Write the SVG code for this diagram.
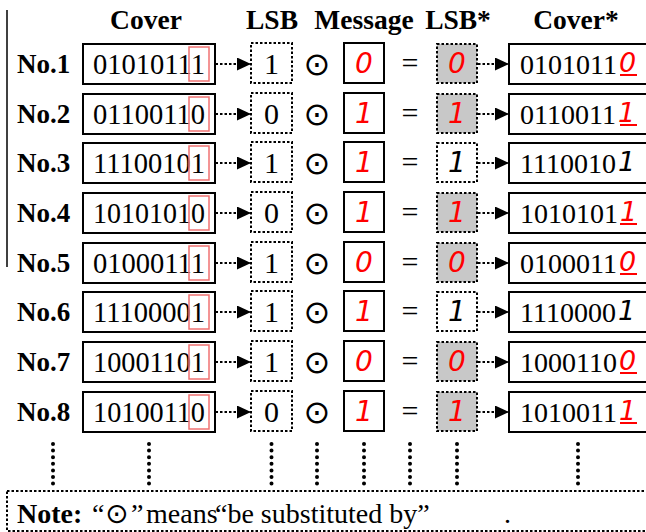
<svg xmlns="http://www.w3.org/2000/svg" width="646" height="532" viewBox="0 0 646 532">
<style>
.hd{font-family:"Liberation Serif","Times New Roman",serif;font-weight:bold;font-size:27.5px;text-anchor:middle;fill:#000}
.no{font-family:"Liberation Serif","Times New Roman",serif;font-weight:bold;font-size:27px;fill:#000}
.dg{font-family:"Liberation Serif","Times New Roman",serif;font-size:30px;fill:#000}
.dgc{font-family:"Liberation Serif","Times New Roman",serif;font-size:28px;fill:#000}
.ctr{text-anchor:middle}
.rd{font-family:"DejaVu Sans",sans-serif;font-style:italic;font-size:28px;fill:#ff0000;text-anchor:middle}
.bk{font-family:"DejaVu Sans",sans-serif;font-style:italic;font-size:28px;fill:#000;text-anchor:middle}
.rdc{font-family:"DejaVu Sans",sans-serif;font-style:italic;font-size:27px;fill:#ff0000}
.bkc{font-family:"DejaVu Sans",sans-serif;font-style:italic;font-size:27px;fill:#000}
.odot{font-family:"DejaVu Sans",sans-serif;font-size:32px;text-anchor:middle;fill:#000}
.box{fill:#fff;stroke:#000;stroke-width:2}
.dbox{fill:#fff;stroke:#000;stroke-width:2;stroke-dasharray:2.5 2}
.gbox{fill:#c8c8c8;stroke:#000;stroke-width:2;stroke-dasharray:2.5 2}
.red{fill:none;stroke:#f07272;stroke-width:1.5}
.arr{stroke:#000;stroke-width:2;stroke-dasharray:2.5 2;fill:none}
.ul{stroke:#ff0000;stroke-width:2}
.dots{stroke:#000;stroke-width:4;stroke-linecap:round;stroke-dasharray:0 6.6;fill:none}
.note{fill:#fff;stroke:#000;stroke-width:2;stroke-dasharray:2.5 2}
.nt{font-family:"Liberation Serif","Times New Roman",serif;font-size:28px;fill:#000}
</style>
<defs>
<marker id="ah" markerUnits="userSpaceOnUse" markerWidth="15" markerHeight="13" refX="14" refY="6.5" orient="auto">
<path d="M0,0 L14,6.5 L0,13 Z" fill="#000"/>
</marker>
</defs>

<line x1="7" y1="10" x2="7" y2="267" stroke="#000" stroke-width="1.5"/>

<g id="headers">
<text class="hd" x="146" y="29">Cover</text>
<text class="hd" x="272" y="29">LSB</text>
<text class="hd" x="364" y="29">Message</text>
<text class="hd" x="458" y="29">LSB*</text>
<text class="hd" x="576" y="29">Cover*</text>
</g>

<g id="connectors">
<line class="arr" x1="211" y1="64" x2="251" y2="64" marker-end="url(#ah)"/>
<line class="arr" x1="478" y1="64" x2="509" y2="64" marker-end="url(#ah)"/>
<line class="arr" x1="211" y1="114" x2="251" y2="114" marker-end="url(#ah)"/>
<line class="arr" x1="478" y1="114" x2="509" y2="114" marker-end="url(#ah)"/>
<line class="arr" x1="211" y1="163" x2="251" y2="163" marker-end="url(#ah)"/>
<line class="arr" x1="478" y1="163" x2="509" y2="163" marker-end="url(#ah)"/>
<line class="arr" x1="211" y1="213" x2="251" y2="213" marker-end="url(#ah)"/>
<line class="arr" x1="478" y1="213" x2="509" y2="213" marker-end="url(#ah)"/>
<line class="arr" x1="211" y1="263" x2="251" y2="263" marker-end="url(#ah)"/>
<line class="arr" x1="478" y1="263" x2="509" y2="263" marker-end="url(#ah)"/>
<line class="arr" x1="211" y1="312" x2="251" y2="312" marker-end="url(#ah)"/>
<line class="arr" x1="478" y1="312" x2="509" y2="312" marker-end="url(#ah)"/>
<line class="arr" x1="211" y1="362" x2="251" y2="362" marker-end="url(#ah)"/>
<line class="arr" x1="478" y1="362" x2="509" y2="362" marker-end="url(#ah)"/>
<line class="arr" x1="211" y1="412" x2="251" y2="412" marker-end="url(#ah)"/>
<line class="arr" x1="478" y1="412" x2="509" y2="412" marker-end="url(#ah)"/>
</g>

<!-- Row 1 -->
<g id="row1">
<text class="no" x="17" y="73">No.1</text>
<g id="cover1"><rect class="box" x="83" y="44" width="132" height="40"/><text class="dg" x="93" y="74" textLength="112" lengthAdjust="spacingAndGlyphs">01010111</text><rect class="red" x="189" y="47" width="20" height="34"/></g>
<g id="lsb1"><rect class="dbox" x="251" y="43" width="41" height="40"/><text class="dg ctr" x="271.5" y="74">1</text></g>
<text class="odot" x="317" y="75">⊙</text>
<g id="msg1"><rect class="box" x="344" y="43" width="40" height="40"/><text class="rd" x="364" y="73">0</text></g>
<text class="dg ctr" x="410" y="73">=</text>
<g id="lsbs1"><rect class="gbox" x="437" y="44" width="40" height="39"/><text class="rd" x="457" y="73">0</text></g>
<g id="covers1"><rect class="box" x="509" y="44" width="145" height="40"/><text class="dgc" x="520" y="74">0101011<tspan class="rdc" dx="2" dy="-2">0</tspan></text><line class="ul" x1="620" y1="75" x2="637" y2="75"/></g>
</g>

<!-- Row 2 -->
<g id="row2">
<text class="no" x="17" y="123">No.2</text>
<g id="cover2"><rect class="box" x="83" y="94" width="132" height="40"/><text class="dg" x="93" y="124" textLength="112" lengthAdjust="spacingAndGlyphs">01100110</text><rect class="red" x="189" y="97" width="20" height="34"/></g>
<g id="lsb2"><rect class="dbox" x="251" y="93" width="41" height="40"/><text class="dg ctr" x="271.5" y="124">0</text></g>
<text class="odot" x="317" y="125">⊙</text>
<g id="msg2"><rect class="box" x="344" y="93" width="40" height="40"/><text class="rd" x="364" y="123">1</text></g>
<text class="dg ctr" x="410" y="123">=</text>
<g id="lsbs2"><rect class="gbox" x="437" y="94" width="40" height="39"/><text class="rd" x="457" y="123">1</text></g>
<g id="covers2"><rect class="box" x="509" y="94" width="145" height="40"/><text class="dgc" x="520" y="124">0110011<tspan class="rdc" dx="2" dy="-2">1</tspan></text><line class="ul" x1="620" y1="125" x2="637" y2="125"/></g>
</g>

<!-- Row 3 -->
<g id="row3">
<text class="no" x="17" y="172">No.3</text>
<g id="cover3"><rect class="box" x="83" y="143" width="132" height="40"/><text class="dg" x="93" y="173" textLength="112" lengthAdjust="spacingAndGlyphs">11100101</text><rect class="red" x="189" y="146" width="20" height="34"/></g>
<g id="lsb3"><rect class="dbox" x="251" y="142" width="41" height="40"/><text class="dg ctr" x="271.5" y="173">1</text></g>
<text class="odot" x="317" y="174">⊙</text>
<g id="msg3"><rect class="box" x="344" y="142" width="40" height="40"/><text class="rd" x="364" y="172">1</text></g>
<text class="dg ctr" x="410" y="172">=</text>
<g id="lsbs3"><rect class="dbox" x="437" y="143" width="40" height="39"/><text class="bk" x="457" y="172">1</text></g>
<g id="covers3"><rect class="box" x="509" y="143" width="145" height="40"/><text class="dgc" x="520" y="173">1110010<tspan class="bkc" dx="2" dy="-2">1</tspan></text></g>
</g>

<!-- Row 4 -->
<g id="row4">
<text class="no" x="17" y="222">No.4</text>
<g id="cover4"><rect class="box" x="83" y="193" width="132" height="40"/><text class="dg" x="93" y="223" textLength="112" lengthAdjust="spacingAndGlyphs">10101010</text><rect class="red" x="189" y="196" width="20" height="34"/></g>
<g id="lsb4"><rect class="dbox" x="251" y="192" width="41" height="40"/><text class="dg ctr" x="271.5" y="223">0</text></g>
<text class="odot" x="317" y="224">⊙</text>
<g id="msg4"><rect class="box" x="344" y="192" width="40" height="40"/><text class="rd" x="364" y="222">1</text></g>
<text class="dg ctr" x="410" y="222">=</text>
<g id="lsbs4"><rect class="gbox" x="437" y="193" width="40" height="39"/><text class="rd" x="457" y="222">1</text></g>
<g id="covers4"><rect class="box" x="509" y="193" width="145" height="40"/><text class="dgc" x="520" y="223">1010101<tspan class="rdc" dx="2" dy="-2">1</tspan></text><line class="ul" x1="620" y1="224" x2="637" y2="224"/></g>
</g>

<!-- Row 5 -->
<g id="row5">
<text class="no" x="17" y="272">No.5</text>
<g id="cover5"><rect class="box" x="83" y="243" width="132" height="40"/><text class="dg" x="93" y="273" textLength="112" lengthAdjust="spacingAndGlyphs">01000111</text><rect class="red" x="189" y="246" width="20" height="34"/></g>
<g id="lsb5"><rect class="dbox" x="251" y="242" width="41" height="40"/><text class="dg ctr" x="271.5" y="273">1</text></g>
<text class="odot" x="317" y="274">⊙</text>
<g id="msg5"><rect class="box" x="344" y="242" width="40" height="40"/><text class="rd" x="364" y="272">0</text></g>
<text class="dg ctr" x="410" y="272">=</text>
<g id="lsbs5"><rect class="gbox" x="437" y="243" width="40" height="39"/><text class="rd" x="457" y="272">0</text></g>
<g id="covers5"><rect class="box" x="509" y="243" width="145" height="40"/><text class="dgc" x="520" y="273">0100011<tspan class="rdc" dx="2" dy="-2">0</tspan></text><line class="ul" x1="620" y1="274" x2="637" y2="274"/></g>
</g>

<!-- Row 6 -->
<g id="row6">
<text class="no" x="17" y="321">No.6</text>
<g id="cover6"><rect class="box" x="83" y="292" width="132" height="40"/><text class="dg" x="93" y="322" textLength="112" lengthAdjust="spacingAndGlyphs">11100001</text><rect class="red" x="189" y="295" width="20" height="34"/></g>
<g id="lsb6"><rect class="dbox" x="251" y="291" width="41" height="40"/><text class="dg ctr" x="271.5" y="322">1</text></g>
<text class="odot" x="317" y="323">⊙</text>
<g id="msg6"><rect class="box" x="344" y="291" width="40" height="40"/><text class="rd" x="364" y="321">1</text></g>
<text class="dg ctr" x="410" y="321">=</text>
<g id="lsbs6"><rect class="dbox" x="437" y="292" width="40" height="39"/><text class="bk" x="457" y="321">1</text></g>
<g id="covers6"><rect class="box" x="509" y="292" width="145" height="40"/><text class="dgc" x="520" y="322">1110000<tspan class="bkc" dx="2" dy="-2">1</tspan></text></g>
</g>

<!-- Row 7 -->
<g id="row7">
<text class="no" x="17" y="371">No.7</text>
<g id="cover7"><rect class="box" x="83" y="342" width="132" height="40"/><text class="dg" x="93" y="372" textLength="112" lengthAdjust="spacingAndGlyphs">10001101</text><rect class="red" x="189" y="345" width="20" height="34"/></g>
<g id="lsb7"><rect class="dbox" x="251" y="341" width="41" height="40"/><text class="dg ctr" x="271.5" y="372">1</text></g>
<text class="odot" x="317" y="373">⊙</text>
<g id="msg7"><rect class="box" x="344" y="341" width="40" height="40"/><text class="rd" x="364" y="371">0</text></g>
<text class="dg ctr" x="410" y="371">=</text>
<g id="lsbs7"><rect class="gbox" x="437" y="342" width="40" height="39"/><text class="rd" x="457" y="371">0</text></g>
<g id="covers7"><rect class="box" x="509" y="342" width="145" height="40"/><text class="dgc" x="520" y="372">1000110<tspan class="rdc" dx="2" dy="-2">0</tspan></text><line class="ul" x1="620" y1="373" x2="637" y2="373"/></g>
</g>

<!-- Row 8 -->
<g id="row8">
<text class="no" x="17" y="421">No.8</text>
<g id="cover8"><rect class="box" x="83" y="392" width="132" height="40"/><text class="dg" x="93" y="422" textLength="112" lengthAdjust="spacingAndGlyphs">10100110</text><rect class="red" x="189" y="395" width="20" height="34"/></g>
<g id="lsb8"><rect class="dbox" x="251" y="391" width="41" height="40"/><text class="dg ctr" x="271.5" y="422">0</text></g>
<text class="odot" x="317" y="423">⊙</text>
<g id="msg8"><rect class="box" x="344" y="391" width="40" height="40"/><text class="rd" x="364" y="421">1</text></g>
<text class="dg ctr" x="410" y="421">=</text>
<g id="lsbs8"><rect class="gbox" x="437" y="392" width="40" height="39"/><text class="rd" x="457" y="421">1</text></g>
<g id="covers8"><rect class="box" x="509" y="392" width="145" height="40"/><text class="dgc" x="520" y="422">1010011<tspan class="rdc" dx="2" dy="-2">1</tspan></text><line class="ul" x1="620" y1="423" x2="637" y2="423"/></g>
</g>

<g id="ellipsis">
<line class="dots" x1="53" y1="444" x2="53" y2="484"/>
<line class="dots" x1="149" y1="444" x2="149" y2="484"/>
<line class="dots" x1="271.5" y1="444" x2="271.5" y2="484"/>
<line class="dots" x1="317" y1="444" x2="317" y2="484"/>
<line class="dots" x1="364" y1="444" x2="364" y2="484"/>
<line class="dots" x1="410" y1="444" x2="410" y2="484"/>
<line class="dots" x1="457" y1="444" x2="457" y2="484"/>
<line class="dots" x1="578" y1="444" x2="578" y2="484"/>
</g>

<g id="note">
<rect class="note" x="7" y="491" width="650" height="40"/>
<text class="nt" y="523"><tspan x="17" font-weight="bold">Note:</tspan><tspan x="92">“</tspan><tspan x="105" font-family="DejaVu Sans, sans-serif" font-size="28">⊙</tspan><tspan x="131">”</tspan><tspan x="146">means</tspan><tspan x="215">“be substituted by”</tspan><tspan x="504">.</tspan></text>
</g>
</svg>
